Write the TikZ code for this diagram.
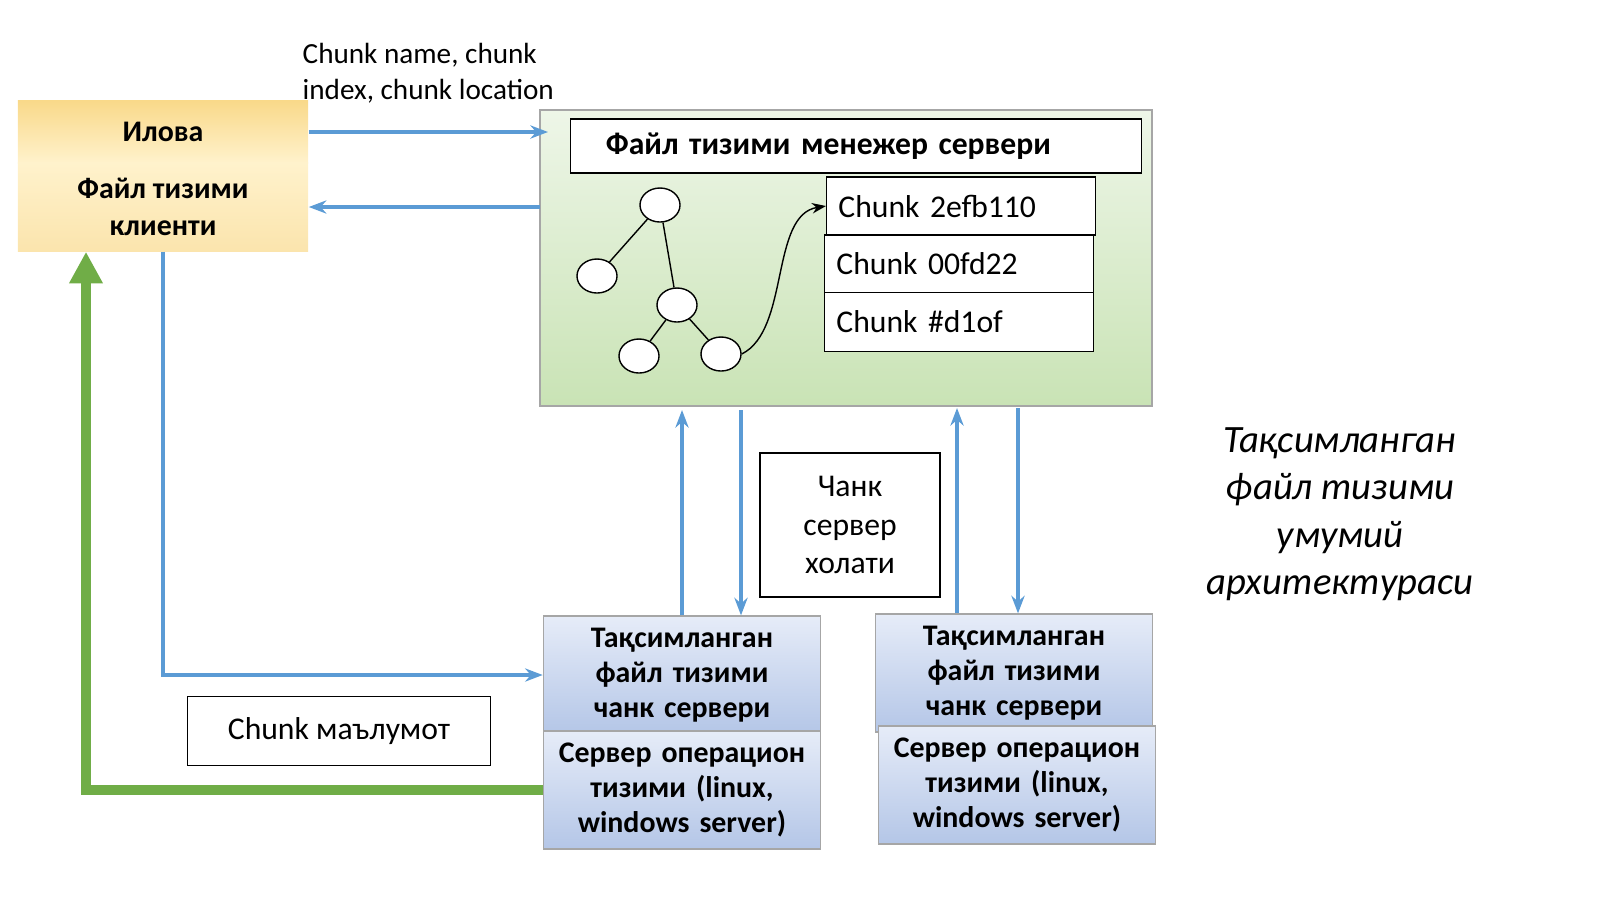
\documentclass[tikz,border=0pt]{standalone}
\usepackage{fontspec}
\setmainfont{Carlito}
\usetikzlibrary{arrows.meta, shapes, backgrounds, positioning}

\definecolor{linkblue}{HTML}{5B9BD5}
\definecolor{datagreen}{HTML}{70AD47}
\definecolor{boxgray}{HTML}{A6A6A6}
\definecolor{clienttop}{HTML}{F9D98A}
\definecolor{clientlow}{HTML}{FFF2CC}
\definecolor{mastertop}{HTML}{EEF6E8}
\definecolor{masterlow}{HTML}{C9E3B5}
\definecolor{srvtop}{HTML}{E6ECF8}
\definecolor{srvlow}{HTML}{B4C6E7}

\tikzset{
  plain/.style={draw=black, fill=white, font=\fontsize{9}{11}\selectfont},
  client/.style={draw=none, top color=clienttop, bottom color=clientlow,
    font=\bfseries\fontsize{8.5}{10.5}\selectfont, align=center},
  chunksrv/.style={draw=boxgray, top color=srvtop, bottom color=srvlow,
    font=\bfseries\fontsize{8.5}{10}\selectfont, align=center, text width=2.7cm, inner xsep=1pt},
  treenode/.style={ellipse, draw=black, fill=white, minimum width=0.4cm, minimum height=0.34cm, inner sep=0pt},
  link/.style={draw=linkblue, line width=1.4pt, -{Stealth[length=5pt]}}
}

\begin{document}
\begin{tikzpicture}[x=0.01cm, y=-0.01cm]
\useasboundingbox (0,0) rectangle (1600,899);

% client
\node[client, minimum width=2.9cm, minimum height=0.62cm] (app) at (163,132) {Илова};
\node[client, minimum width=2.9cm, minimum height=0.88cm, top color=clientlow, bottom color=clienttop!70] (fsclient) at (163,207) {Файл тизими\\клиенти};
\node[anchor=north west, align=left, inner sep=0pt, font=\fontsize{8.3}{10}\selectfont] (req) at (302,43) {Chunk name, chunk\\index, chunk location};

% master
\node[draw=boxgray, top color=mastertop, bottom color=masterlow, minimum width=6.12cm, minimum height=2.96cm] (master) at (846,258) {};
\node[plain, minimum width=5.21cm, minimum height=0.54cm, font=\bfseries\fontsize{9}{11}\selectfont, anchor=west, text width=5cm, inner xsep=10pt] (mtitle) at (570,146) {Файл тизими менежер сервери};
\node[plain, minimum width=2.67cm, minimum height=0.58cm, anchor=west, text width=2.45cm] (ch1) at (826,206) {Chunk 2efb110};
\node[plain, minimum width=2.67cm, minimum height=0.58cm, anchor=west, text width=2.45cm] (ch2) at (824,264) {Chunk 00fd22};
\node[plain, minimum width=2.67cm, minimum height=0.59cm, anchor=west, text width=2.45cm] (ch3) at (824,322) {Chunk \#d1of};

% tree
\node[treenode] (t1) at (660,205) {};
\node[treenode] (t2) at (597,276) {};
\node[treenode] (t3) at (677,305) {};
\node[treenode] (t4) at (639,356) {};
\node[treenode] (t5) at (721,354) {};
\draw (t1) -- (t2);
\draw (t1) -- (t3);
\draw (t3) -- (t4);
\draw (t3) -- (t5);
\draw[-{Stealth[length=4pt]}] (t5.east) .. controls (790,330) and (770,215) .. (ch1.west);

% state
\node[plain, minimum width=1.8cm, minimum height=1.44cm, align=center] (state) at (850,525) {Чанк\\сервер\\холати};

% chunk servers
\node[chunksrv, minimum width=2.75cm, minimum height=1.08cm] (cs1) at (682,675) {Тақсимланган файл тизими чанк сервери};
\node[chunksrv, minimum width=2.75cm, minimum height=1.09cm] (os1) at (682,790) {Сервер операцион тизими (linux, windows server)};
\node[chunksrv, minimum width=2.75cm, minimum height=1.08cm] (cs2) at (1014,673) {Тақсимланган файл тизими чанк сервери};
\node[chunksrv, minimum width=2.74cm, minimum height=1.08cm] (os2) at (1017,785) {Сервер операцион тизими (linux, windows server)};

\node[plain, minimum width=3.03cm, minimum height=0.69cm] (data) at (339,731) {Chunk маълумот};

\node[font=\itshape\fontsize{11}{13.5}\selectfont, align=center] (title) at (1340,514) {Тақсимланган\\файл тизими\\умумий\\архитектураси};

% links
\coordinate (m1) at (548,132);
\coordinate (m2) at (540,207);
\draw[link] (app.east |- m1) -- (m1);
\draw[link] (m2) -- (fsclient.east |- m2);
\draw[link] (cs1.north -| 682,0) -- (682,410);
\draw[link] (741,410) -- (cs1.north -| 741,0);
\draw[link] (cs2.north -| 957,0) -- (957,408);
\draw[link] (1018,408) -- (cs2.north -| 1018,0);
\draw[link] (fsclient.south) |- (cs1.west);
\draw[draw=datagreen, line width=2.6pt, -{Triangle[length=9pt, width=9pt]}] (os1.west) -| (fsclient.south west -| 86,0);
\end{tikzpicture}
\end{document}
